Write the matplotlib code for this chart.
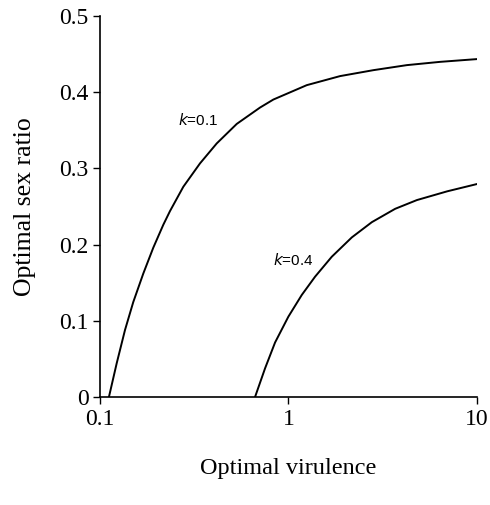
import numpy as np
import matplotlib
matplotlib.use('Agg')
import matplotlib.pyplot as plt
from matplotlib.ticker import FixedLocator, FixedFormatter, NullLocator

plt.rcParams['font.family'] = ['Liberation Serif', 'DejaVu Serif']

# curve k=0.1
k1_x = [0.1116, 0.1227, 0.1358, 0.1502, 0.1698, 0.1919, 0.2168, 0.2354, 0.2770,
        0.3397, 0.4167, 0.5321, 0.7074, 0.8324, 1.252, 1.882, 2.828, 4.255, 6.391, 10.0]
k1_y = [0.0, 0.0442, 0.0879, 0.1245, 0.1620, 0.1960, 0.2260, 0.2441, 0.2760,
        0.3067, 0.3329, 0.3585, 0.3800, 0.3905, 0.4094, 0.4213, 0.4291, 0.4357, 0.4400, 0.4436]

# curve k=0.4
k4_x = [0.6657, 0.752, 0.850, 1.0, 1.178, 1.386, 1.700, 2.172, 2.774, 3.687,
        4.81, 6.97, 10.0]
k4_y = [0.0, 0.0375, 0.0715, 0.1054, 0.1339, 0.1579, 0.1841, 0.2095, 0.2295, 0.2470,
        0.2585, 0.2700, 0.2795]

labels = ['$k$=0.1', '$k$=0.4']
label_pos = [(0.2605, 0.3635), (0.830, 0.1798)]

fig = plt.figure(figsize=(4.9, 5.05), dpi=100)
ax = fig.add_axes([0.204, 0.214, 0.769, 0.754])

ax.plot(k1_x, k1_y, color='black', lw=1.4, solid_joinstyle='round')
ax.plot(k4_x, k4_y, color='black', lw=1.4, solid_joinstyle='round')

for lab, (x, y) in zip(labels, label_pos):
    ax.text(x, y, lab, fontsize=11, family=['Liberation Sans', 'DejaVu Sans'],
            va='center', ha='left')

ax.set_xscale('log')
ax.set_xlim(0.1, 10)
ax.set_ylim(0, 0.5)
ax.xaxis.set_major_locator(FixedLocator([0.1, 1, 10]))
ax.xaxis.set_major_formatter(FixedFormatter(['0.1', '1', '10']))
ax.xaxis.set_minor_locator(NullLocator())
ax.set_yticks([0, 0.1, 0.2, 0.3, 0.4, 0.5])
ax.set_yticklabels(['0', '0.1', '0.2', '0.3', '0.4', '0.5'])

for s in ['top', 'right']:
    ax.spines[s].set_visible(False)
for s in ['left', 'bottom']:
    ax.spines[s].set_linewidth(1.2)

ax.tick_params(direction='out', length=5, width=1.0, labelsize=17, pad=3)
ax.tick_params(axis='x', pad=4)

ax.set_xlabel('Optimal virulence', fontsize=17.5, labelpad=20)
ax.set_ylabel('Optimal sex ratio', fontsize=18.5, labelpad=17)

fig.savefig('out.png', dpi=100)
